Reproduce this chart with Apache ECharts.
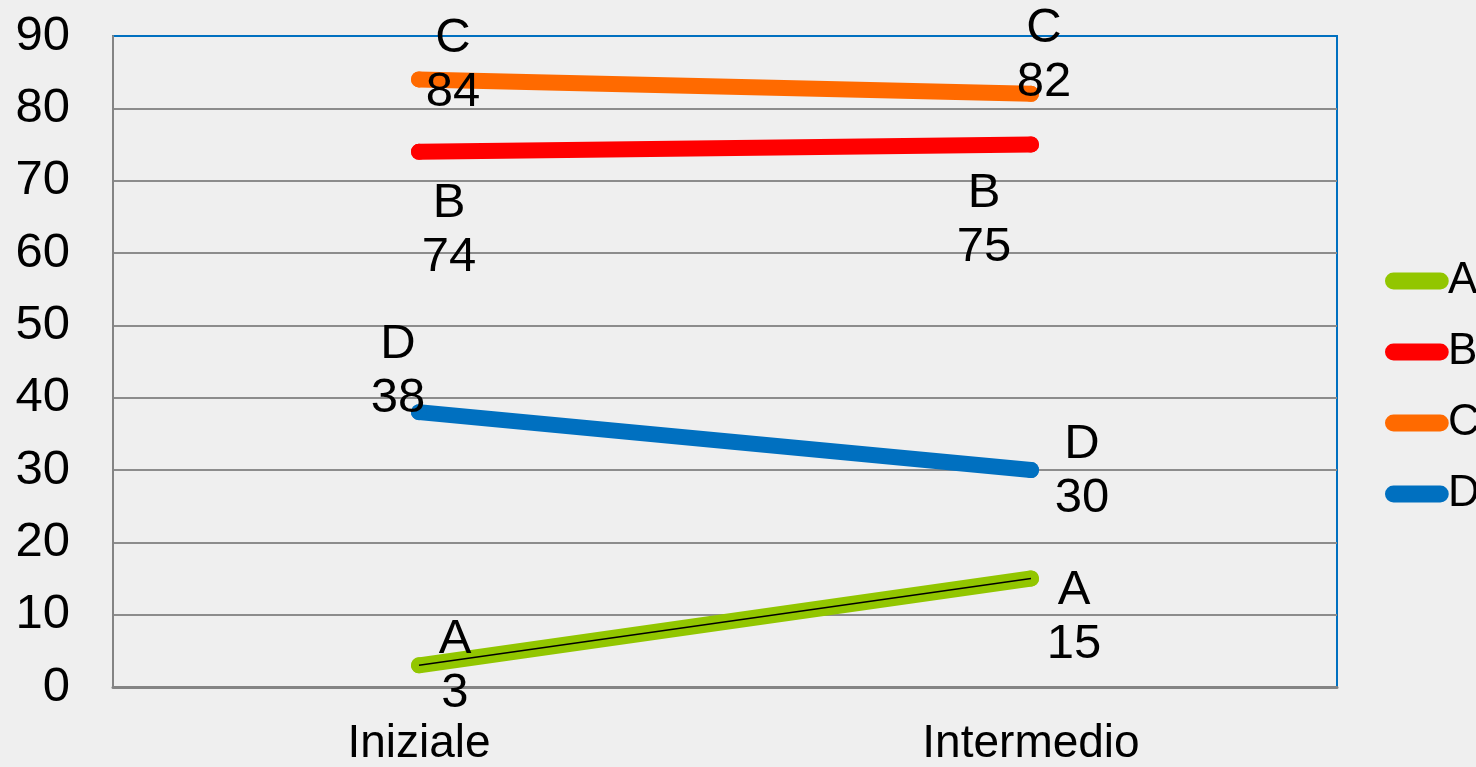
<!DOCTYPE html>
<html>
<head>
<meta charset="utf-8">
<script src="https://cdn.jsdelivr.net/npm/echarts@6/dist/echarts.min.js"></script>
<style>
html, body { margin: 0; padding: 0; background: #efefef; }
#main { width: 1476px; height: 767px; }
</style>
</head>
<body>
<div id="main"></div>
<script>
// dati del grafico
var categorie = ['Iniziale', 'Intermedio'];
var nomiSerie = ['A', 'B', 'C', 'D'];
var valoriA = [3, 15];
var valoriB = [74, 75];
var valoriC = [84, 82];
var valoriD = [38, 30];
var yTicks = [0, 10, 20, 30, 40, 50, 60, 70, 80, 90];

// posizione delle etichette (spostamento in px rispetto al punto)
var spostamenti = {
	A: [[36, 1], [43, 39]],
	B: [[30, 79], [-47, 76]],
	C: [[34, -14], [13, -38]],
	D: [[-21, -41], [51, 1]]
};
var colori = { A: '#92c600', B: '#ff0000', C: '#ff6a00', D: '#0070c0' };

var font = 'Liberation Sans, Arial, sans-serif';

// griglia grigia, ultima linea (90) blu come il bordo
var coloriGriglia = yTicks.map(function(t, i) {
	return i == yTicks.length - 1 ? '#0070c0' : '#8c8c8c';
});

function creaSerie(nome, valori) {
	return {
		name: nome,
		type: 'line',
		data: valori.map(function(v, i) {
			return {
				value: v,
				label: { offset: spostamenti[nome][i] }
			};
		}),
		symbol: 'circle',
		symbolSize: 16,
		color: colori[nome],
		lineStyle: { width: 16, cap: 'round' },
		label: {
			show: true,
			position: 'inside',
			formatter: '{a}\n{c}',
			fontFamily: font,
			fontSize: 49,
			lineHeight: 54,
			color: '#000'
		},
		z: 2
	};
}

var myChart = echarts.init(document.getElementById('main'));

var option = {
	backgroundColor: '#efefef',
	animation: false,
	grid: {
		left: 113, right: 139, top: 36, bottom: 79,
		show: true,
		borderColor: '#0070c0',
		borderWidth: 2,
		backgroundColor: 'transparent'
	},
	legend: {
		orient: 'vertical',
		left: 1380,
		top: 254,
		data: nomiSerie,
		icon: 'path://M8,0 H52 A8,8 0 0 1 52,16 H8 A8,8 0 0 1 8,0 Z',
		itemWidth: 64,
		itemHeight: 17,
		itemGap: 27,
		textStyle: { fontFamily: font, fontSize: 44, lineHeight: 44, color: '#000', padding: [0, 0, 0, -6] }
	},
	xAxis: {
		type: 'category',
		data: categorie,
		boundaryGap: true,
		axisLine: { lineStyle: { color: '#848484', width: 3 } },
		axisTick: { show: false },
		axisLabel: { fontFamily: font, fontSize: 46, color: '#000', margin: 34 }
	},
	yAxis: {
		type: 'value',
		min: yTicks[0],
		max: yTicks[yTicks.length - 1],
		interval: 10,
		axisLine: { show: true, lineStyle: { color: '#848484', width: 2 } },
		axisTick: { show: false },
		splitLine: { lineStyle: { color: coloriGriglia, width: 2 } },
		axisLabel: { fontFamily: font, fontSize: 49, color: '#000', margin: 43 }
	},
	series: [
		creaSerie('A', valoriA),
		{
			name: 'A-linea',
			type: 'line',
			data: valoriA,
			symbol: 'none',
			color: '#000',
			lineStyle: { width: 1.5 },
			silent: true,
			z: 3
		},
		creaSerie('B', valoriB),
		creaSerie('C', valoriC),
		creaSerie('D', valoriD)
	]
};

myChart.setOption(option);
</script>
</body>
</html>
